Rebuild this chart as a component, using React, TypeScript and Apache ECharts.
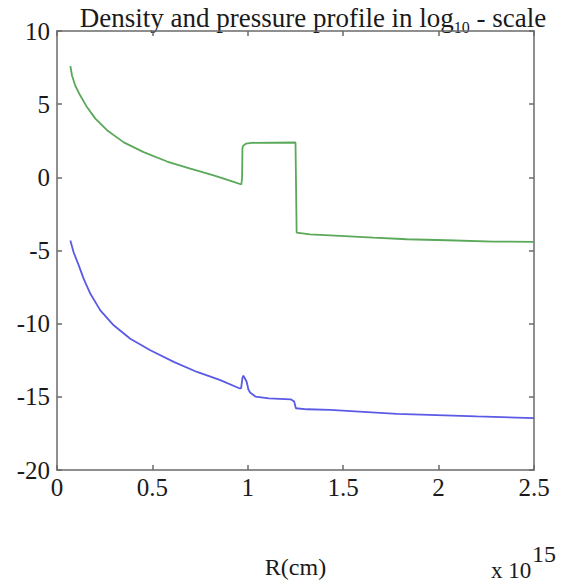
import React, { useEffect, useRef } from "react";
import * as echarts from "echarts";

// x values in units of 10^15 cm, y values in log10
const densityX = [0.07, 0.079, 0.096, 0.122, 0.157, 0.201, 0.262, 0.35, 0.454, 0.577, 0.699, 0.821, 0.926, 0.966, 0.97, 0.972, 0.975, 0.99, 1.02, 1.25, 1.253, 1.256, 1.326, 1.483, 1.658, 1.833, 2.043, 2.287, 2.5];
const densityY = [7.61, 6.94, 6.26, 5.59, 4.8, 4.01, 3.22, 2.39, 1.72, 1.08, 0.59, 0.14, -0.31, -0.49, -0.04, 1.99, 2.15, 2.3, 2.36, 2.38, 2.38, -3.78, -3.9, -4.0, -4.12, -4.23, -4.3, -4.39, -4.41];

const pressureX = [0.07, 0.087, 0.114, 0.14, 0.175, 0.227, 0.297, 0.384, 0.489, 0.612, 0.734, 0.856, 0.958, 0.965, 0.972, 0.977, 0.985, 0.994, 1.003, 1.012, 1.04, 1.11, 1.225, 1.243, 1.252, 1.31, 1.431, 1.781, 2.2, 2.5];
const pressureY = [-4.32, -5.12, -6.02, -6.94, -7.96, -9.09, -10.11, -11.03, -11.82, -12.61, -13.3, -13.86, -14.43, -14.4, -13.7, -13.55, -13.75, -13.97, -14.5, -14.7, -14.98, -15.1, -15.17, -15.32, -15.78, -15.85, -15.89, -16.16, -16.34, -16.45];

const xTicks = { min: 0, max: 2.5, interval: 0.5 };
const yTicks = { min: -20, max: 10, interval: 5 };

const FONT = "Liberation Serif";
const TEXT_COLOR = "#1a1a1a";
const AXIS_COLOR = "#6a6a6a";

export default function App() {
  const ref = useRef<HTMLDivElement>(null);
  useEffect(() => {
    if (!ref.current) return;
    const chart = echarts.init(ref.current, undefined, { renderer: "svg" });
    const axisCommon = {
      axisLine: { show: true, onZero: false, lineStyle: { color: AXIS_COLOR, width: 1.5 } },
      axisTick: { show: true, inside: true, length: 5, lineStyle: { color: AXIS_COLOR, width: 1.5 } },
      splitLine: { show: false },
    };
    chart.setOption({
      animation: false,
      backgroundColor: "#ffffff",
      textStyle: { fontFamily: FONT },
      grid: { left: 57, right: 30, top: 31, bottom: 110, containLabel: false },
      xAxis: [
        {
          type: "value", position: "bottom", ...xTicks, ...axisCommon,
          axisLabel: { color: TEXT_COLOR, fontFamily: FONT, fontSize: 25, margin: 5 },
          name: "R(cm)", nameLocation: "middle", nameGap: 85,
          nameTextStyle: { color: TEXT_COLOR, fontFamily: FONT, fontSize: 24 },
        },
        { type: "value", position: "top", ...xTicks, ...axisCommon, axisLabel: { show: false } },
      ],
      yAxis: [
        {
          type: "value", position: "left", ...yTicks, ...axisCommon,
          axisLabel: { color: TEXT_COLOR, fontFamily: FONT, fontSize: 25, margin: 7 },
        },
        { type: "value", position: "right", ...yTicks, ...axisCommon, axisLabel: { show: false } },
      ],
      graphic: [
        {
          type: "text", x: 313, y: 31,
          style: {
            text: "{a|Density and pressure profile in log}{s|10}{a| - scale}",
            align: "center", verticalAlign: "bottom",
            rich: {
              a: { fontFamily: FONT, fontSize: 27, fill: TEXT_COLOR },
              s: { fontFamily: FONT, fontSize: 16, fill: TEXT_COLOR, verticalAlign: "bottom", padding: [0, 0, -4, 0] },
            },
          },
        },
        {
          type: "text", x: 491, y: 559,
          style: { text: "x 10", fontFamily: FONT, fontSize: 23, fill: TEXT_COLOR, align: "left", verticalAlign: "top" },
        },
        {
          type: "text", x: 532, y: 542,
          style: { text: "15", fontFamily: FONT, fontSize: 24, fill: TEXT_COLOR, align: "left", verticalAlign: "top" },
        },
      ],
      series: [
        {
          type: "line", name: "density", showSymbol: false, symbol: "none",
          lineStyle: { color: "#5aa85a", width: 1.8 },
          data: densityX.map((x, i) => [x, densityY[i]]),
        },
        {
          type: "line", name: "pressure", showSymbol: false, symbol: "none",
          lineStyle: { color: "#5a5ae6", width: 1.8 },
          data: pressureX.map((x, i) => [x, pressureY[i]]),
        },
      ],
    });
    return () => chart.dispose();
  }, []);
  return (
    <div
      ref={ref}
      style={{ position: "fixed", left: 0, top: 0, width: 564, height: 584, background: "#fff" }}
    />
  );
}
